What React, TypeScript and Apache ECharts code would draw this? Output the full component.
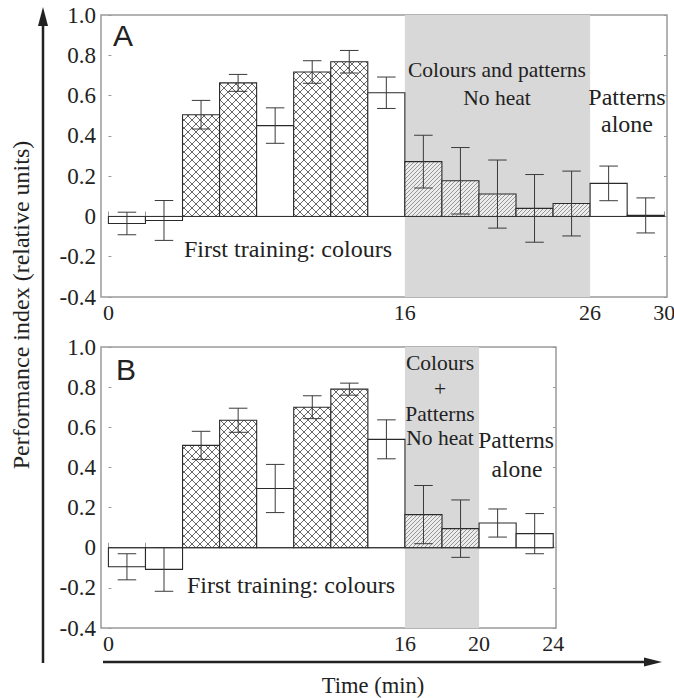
import React, { useEffect, useRef } from "react";
import * as echarts from "echarts";

// ---------- data ----------
const panelAStart = [0, 2, 4, 6, 8, 10, 12, 14, 16, 18, 20, 22, 24, 26, 28];
const panelAValues = [-0.035, -0.02, 0.505, 0.663, 0.451, 0.717, 0.768, 0.614, 0.272, 0.177, 0.111, 0.04, 0.064, 0.164, 0.005];
const panelAErrors = [0.056, 0.099, 0.071, 0.042, 0.088, 0.056, 0.056, 0.078, 0.131, 0.165, 0.169, 0.168, 0.161, 0.086, 0.087];
const panelAFills = ["white", "white", "cross", "cross", "white", "cross", "cross", "white", "hatch", "hatch", "hatch", "hatch", "hatch", "white", "white"];

const panelBStart = [0, 2, 4, 6, 8, 10, 12, 14, 16, 18, 20, 22];
const panelBValues = [-0.095, -0.108, 0.51, 0.635, 0.295, 0.70, 0.79, 0.54, 0.165, 0.095, 0.123, 0.07];
const panelBErrors = [0.065, 0.109, 0.07, 0.06, 0.12, 0.057, 0.03, 0.097, 0.145, 0.143, 0.07, 0.1];
const panelBFills = ["white", "white", "cross", "cross", "white", "cross", "cross", "white", "hatch", "hatch", "white", "white"];

const binWidth = 2;
const bandA = [16, 26];
const bandB = [16, 20];
const xTicksA = [0, 2, 4, 6, 8, 10, 12, 14, 16, 18, 20, 22, 24, 26, 28, 30];
const xLabelsA = [0, 16, 26, 30];
const xTicksB = [0, 2, 4, 6, 8, 10, 12, 14, 16, 18, 20, 22, 24];
const xLabelsB = [0, 16, 20, 24];
const yMin = -0.4;
const yMax = 1.0;
const yStep = 0.2;

const SERIF = '"Liberation Serif", "Times New Roman", serif';
const SANS = '"Liberation Sans", Arial, sans-serif';

function svgUrl(svg: string) {
  return "data:image/svg+xml;charset=utf-8," + encodeURIComponent(svg);
}

const crossPattern = {
  image: svgUrl(
    '<svg xmlns="http://www.w3.org/2000/svg" width="8" height="8"><rect width="8" height="8" fill="#ffffff"/><path d="M-1,-1L9,9M9,-1L-1,9" stroke="#555" stroke-width="0.9" fill="none"/></svg>'
  ),
  repeat: "repeat",
  imageWidth: 8,
  imageHeight: 8,
};
const hatchPattern = {
  image: svgUrl(
    '<svg xmlns="http://www.w3.org/2000/svg" width="4" height="4"><rect width="4" height="4" fill="#ececec"/><path d="M-1,5L5,-1M-1,1L1,-1M3,5L5,3" stroke="#808080" stroke-width="0.8" fill="none"/></svg>'
  ),
  repeat: "repeat",
  imageWidth: 4,
  imageHeight: 4,
};

function fillFor(kind: string): any {
  if (kind === "cross") return crossPattern;
  if (kind === "hatch") return hatchPattern;
  return "#ffffff";
}

function makeBarSeries(idx: number, starts: number[], values: number[], errors: number[], fills: string[]) {
  return {
    type: "custom",
    xAxisIndex: idx,
    yAxisIndex: idx * 2,
    z: 3,
    silent: true,
    data: starts.map((s, i) => [s, s + binWidth, values[i], errors[i]]),
    encode: { x: [0, 1], y: [2] },
    renderItem: (params: any, api: any) => {
      const x0 = api.value(0);
      const x1 = api.value(1);
      const v = api.value(2);
      const e = api.value(3);
      const p0 = api.coord([x0, 0]);
      const p1 = api.coord([x1, v]);
      const mid = (x0 + x1) / 2;
      const pt = api.coord([mid, v + e]);
      const pb = api.coord([mid, v - e]);
      const capHalf = api.size([0.5, 0])[0];
      const kind = fills[params.dataIndex];
      const errStyle = { stroke: "#3a3a3a", lineWidth: 1 };
      return {
        type: "group",
        children: [
          {
            type: "rect",
            shape: {
              x: p0[0],
              y: Math.min(p0[1], p1[1]),
              width: p1[0] - p0[0],
              height: Math.abs(p1[1] - p0[1]),
            },
            style: { fill: fillFor(kind), stroke: "#2a2a2a", lineWidth: 1.1 },
          },
          { type: "line", shape: { x1: pt[0], y1: pt[1], x2: pb[0], y2: pb[1] }, style: errStyle },
          { type: "line", shape: { x1: pt[0] - capHalf, y1: pt[1], x2: pt[0] + capHalf, y2: pt[1] }, style: errStyle },
          { type: "line", shape: { x1: pb[0] - capHalf, y1: pb[1], x2: pb[0] + capHalf, y2: pb[1] }, style: errStyle },
        ],
      };
    },
  };
}

function makeBaseSeries(idx: number, xEnd: number, band: number[]) {
  return {
    type: "line",
    xAxisIndex: idx,
    yAxisIndex: idx * 2,
    z: 4,
    silent: true,
    symbol: "none",
    data: [
      [0, 0],
      [xEnd, 0],
    ],
    lineStyle: { color: "#333", width: 1 },
    markArea: {
      silent: true,
      itemStyle: { color: "#d8d8d8" },
      data: [[{ xAxis: band[0] }, { xAxis: band[1] }]],
    },
  };
}

function xAxisFor(idx: number, max: number, ticks: number[], labels: number[]) {
  return {
    type: "value",
    gridIndex: idx,
    min: -0.4,
    max,
    splitLine: { show: false },
    axisLine: { show: false },
    axisTick: { show: true, inside: true, length: 5, customValues: ticks, lineStyle: { color: "#9a9a9a", width: 1 } },
    axisLabel: {
      customValues: labels,
      fontFamily: SERIF,
      fontSize: 22,
      color: "#222",
      margin: 4,
      formatter: (v: number) => String(v),
    },
  };
}

function yAxisFor(idx: number, right: boolean) {
  return {
    type: "value",
    gridIndex: idx,
    position: right ? "right" : "left",
    min: yMin,
    max: yMax,
    interval: yStep,
    splitLine: { show: false },
    axisLine: { show: false },
    axisTick: { show: true, inside: true, length: 3, lineStyle: { color: "#9a9a9a", width: 1 } },
    axisLabel: {
      show: !right,
      fontFamily: SERIF,
      fontSize: 23,
      color: "#222",
      margin: 5,
      formatter: (v: number) => (Math.abs(v) < 1e-9 ? "0" : v.toFixed(1)),
    },
  };
}

function txt(text: string, x: number, y: number, size: number, font = SERIF, extra: any = {}) {
  return {
    type: "text",
    x,
    y,
    silent: true,
    z: 10,
    ...extra,
    style: {
      text,
      fill: "#222",
      font: `${size}px ${font}`,
      textAlign: "center",
      textVerticalAlign: "middle",
    },
  };
}

export default function App() {
  const ref = useRef<HTMLDivElement>(null);
  useEffect(() => {
    if (!ref.current) return;
    const chart = echarts.init(ref.current, null, { renderer: "svg" });
    const gridCommon = {
      show: true,
      borderColor: "#9a9a9a",
      borderWidth: 1.5,
      backgroundColor: "transparent",
      containLabel: false,
      outerBoundsMode: "none",
    };
    const option: any = {
      animation: false,
      backgroundColor: "#ffffff",
      grid: [
        { ...gridCommon, left: 101, top: 15, width: 566, height: 282 },
        { ...gridCommon, left: 101, top: 347, width: 455, height: 281 },
      ],
      xAxis: [xAxisFor(0, 30.15, xTicksA, xLabelsA), xAxisFor(1, 24.15, xTicksB, xLabelsB)],
      yAxis: [yAxisFor(0, false), yAxisFor(0, true), yAxisFor(1, false), yAxisFor(1, true)],
      series: [
        makeBaseSeries(0, 30, bandA),
        makeBarSeries(0, panelAStart, panelAValues, panelAErrors, panelAFills),
        makeBaseSeries(1, 24, bandB),
        makeBarSeries(1, panelBStart, panelBValues, panelBErrors, panelBFills),
      ],
      graphic: {
        elements: [
          // panel letters
          txt("A", 123, 35, 30, SANS),
          txt("B", 126, 369, 30, SANS),
          // panel A annotations
          txt("First training: colours", 288, 249, 24),
          txt("Colours and patterns", 497, 70, 21.5),
          txt("No heat", 497, 98, 21.5),
          txt("Patterns", 627, 97, 24),
          txt("alone", 627, 124, 24),
          // panel B annotations
          txt("First training: colours", 291, 585, 24),
          txt("Colours", 440, 363, 21.5),
          txt("+", 440, 389, 21.5),
          txt("Patterns", 440, 414, 21.5),
          txt("No heat", 440, 438, 21.5),
          txt("Patterns", 516, 440, 23.5),
          txt("alone", 517, 469, 23.5),
          // axis titles
          txt("Performance index (relative units)", 21, 305, 24, SERIF, { rotation: Math.PI / 2 }),
          txt("Time (min)", 373, 685, 22.5),
          // arrows
          { type: "line", silent: true, shape: { x1: 43, y1: 663, x2: 43, y2: 22 }, style: { stroke: "#222", lineWidth: 2.5 } },
          { type: "polygon", silent: true, shape: { points: [[43, 7], [38, 26], [48, 26]] }, style: { fill: "#222" } },
          { type: "line", silent: true, shape: { x1: 103, y1: 662, x2: 648, y2: 662 }, style: { stroke: "#222", lineWidth: 2.5 } },
          { type: "polygon", silent: true, shape: { points: [[662, 662], [644, 657.5], [644, 666.5]] }, style: { fill: "#222" } },
        ],
      },
    };
    chart.setOption(option);
    return () => chart.dispose();
  }, []);
  return <div ref={ref} style={{ position: "absolute", left: 0, top: 0, width: 674, height: 698 }} />;
}
